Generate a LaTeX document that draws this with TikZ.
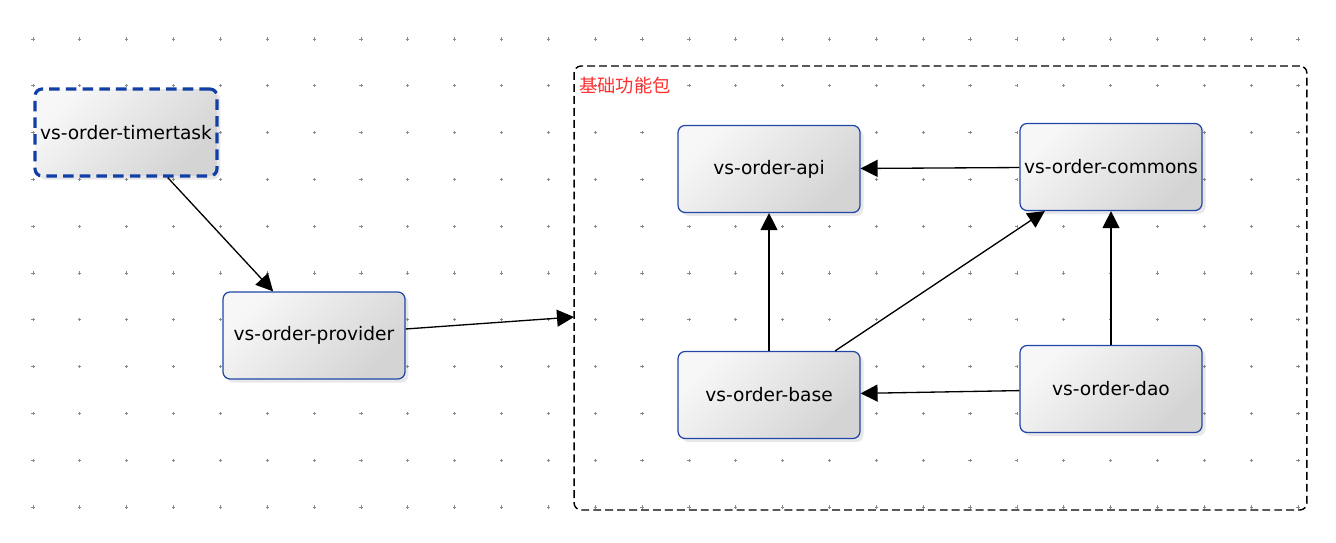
\documentclass[tikz,border=0pt]{standalone}
\usepackage{fontspec}
\setmainfont{DejaVu Sans}
\newfontfamily\cjkfont{Noto Sans CJK SC}
\usepackage{tikz}
\usetikzlibrary{arrows.meta,positioning,shadows}
\definecolor{boxBlue}{HTML}{2146A6}
\definecolor{timerBlue}{HTML}{123FA6}
\definecolor{pkgRed}{HTML}{FF3030}
\definecolor{gridGray}{HTML}{8A8A8A}

\begin{document}
\begin{tikzpicture}[
  x=0.02cm, y=-0.02cm,
  font=\fontsize{10.6}{12}\selectfont,
  module/.style={draw=boxBlue, line width=0.7pt, rounded corners=4pt,
    minimum width=3.64cm, minimum height=1.74cm, inner sep=1pt,
    left color=black!3, right color=black!17, shading angle=45,
    drop shadow={opacity=0.18, shadow xshift=2pt, shadow yshift=-2pt}},
  timerbox/.style={module, draw=timerBlue, line width=1.8pt, dash pattern=on 6pt off 3.5pt},
  pkgbox/.style={draw, line width=0.8pt, rounded corners=4pt, dash pattern=on 4.5pt off 2.3pt,
    minimum width=14.66cm, minimum height=8.88cm},
  pkglabel/.style={font=\cjkfont\fontsize{10.4}{12}\selectfont, text=pkgRed, inner sep=0pt},
  dep/.style={-{Triangle[length=3.4mm, width=3.4mm]}, line width=0.75pt}
]
\useasboundingbox (0,0) rectangle (1336,543);
% dotted grid
\foreach \i in {0,...,27}{
  \foreach \j in {0,...,10}{
    \draw[gridGray, line width=0.4pt] (33+46.85*\i-1.6,39+46.8*\j) -- ++(3.2,0)
      (33+46.85*\i,39+46.8*\j-1.6) -- ++(0,3.2);
  }
}
% package frame
\node[pkgbox] (pkg) at (940.5,288) {};
\node[pkglabel, anchor=west] (pkgname) at (579,86) {基础功能包};
% modules
\node[timerbox] (timer) at (126,132.5) {vs-order-timertask};
\node[module] (provider) at (314,335.5) {vs-order-provider};
\node[module] (api) at (769,169) {vs-order-api};
\node[module] (commons) at (1111,167) {vs-order-commons};
\node[module] (base) at (769,395) {vs-order-base};
\node[module] (dao) at (1111,389) {vs-order-dao};
% dependencies
\coordinate (pkgin) at (574,317);
\draw[dep] (timer) -- (provider);
\draw[dep] (provider) -- (pkgin);
\draw[dep] (commons) -- (api);
\draw[dep] (base) -- (api);
\draw[dep] (base) -- (commons);
\draw[dep] (dao) -- (commons);
\draw[dep] (dao) -- (base);
\end{tikzpicture}
\end{document}
